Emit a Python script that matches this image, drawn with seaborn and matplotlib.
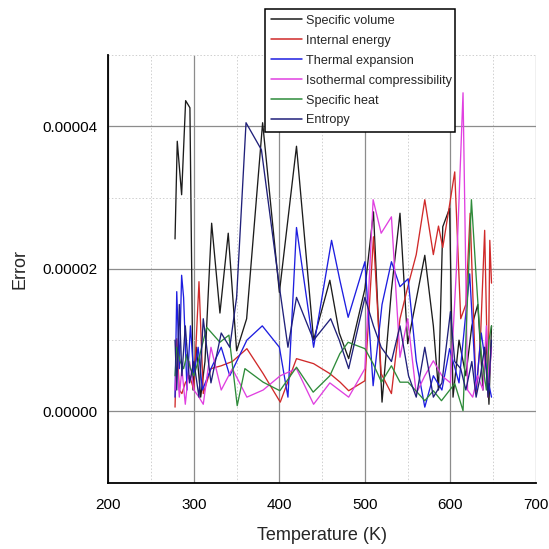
import matplotlib
matplotlib.use("Agg")
import matplotlib.pyplot as plt
import seaborn as sns
import pandas as pd
from matplotlib.ticker import MultipleLocator, FormatStrFormatter

SCALE = 1e-5  # errors below are given in units of 1e-5

series_names = ["Specific volume", "Internal energy", "Thermal expansion",
                "Isothermal compressibility", "Specific heat", "Entropy"]
series_colors = ["#1c1c1c", "#d02a2a", "#1e1ee0", "#e040e0", "#2e8b3a", "#20207a"]

t_volume = [278, 280.6, 285.7, 290.4, 295.4, 299, 303, 308, 313, 320.8, 330.5, 340.2, 350,
            361.7, 380.4, 400, 420, 440, 459, 470, 481, 500, 510, 520, 531, 541, 550, 570,
            580, 586, 591, 599, 603, 610, 618, 625, 632, 638, 642, 645, 648]
err_volume = [2.42, 3.79, 3.04, 4.36, 4.26, 0.3, 0.9, 0.2, 0.7, 2.64, 1.38, 2.50, 0.85,
              1.30, 4.05, 1.67, 3.72, 1.0, 1.84, 1.1, 0.74, 1.72, 2.8, 0.13, 1.7, 2.78, 0.95, 2.19,
              1.2, 0.3, 2.59, 2.85, 0.2, 1.0, 0.5, 1.2, 1.5, 0.3, 1.0, 0.1, 1.2]

t_energy = [278, 280, 283, 286, 290, 295, 300, 306, 311, 320, 332, 345, 362, 381, 401, 420,
            440, 459, 471, 481, 500, 510, 519, 531, 541, 551, 560, 570, 580, 586, 591, 599,
            605, 612, 618, 623, 630, 635, 640, 644, 646, 648]
err_energy = [0.06, 1.02, 0.3, 0.25, 0.4, 0.5, 0.3, 1.82, 0.25, 0.6, 0.64, 0.7, 0.88, 0.53,
              0.13, 0.74, 0.67, 0.53, 0.41, 0.29, 0.43, 2.45, 0.53, 0.25, 1.3, 1.79, 2.2, 2.97,
              2.2, 2.6, 2.3, 2.9, 3.36, 1.3, 1.5, 2.78, 0.25, 1.0, 2.54, 0.2, 2.4, 1.8]

t_expansion = [278, 280, 283, 285.7, 288, 292, 296, 300, 305, 310, 320, 332, 342, 350, 362,
               380, 400, 410, 420, 440, 461, 470.7, 480.4, 500, 509.6, 520, 531, 541, 550.5,
               560, 570, 580, 590, 599, 610, 622.5, 630, 636, 644, 648]
err_expansion = [0.2, 1.68, 0.6, 1.91, 1.6, 0.3, 1.2, 0.5, 0.9, 0.3, 0.6, 0.9, 0.5, 0.7,
                 1.0, 1.2, 0.9, 0.2, 2.58, 0.9, 2.4, 1.84, 1.32, 2.1, 0.36, 1.5, 2.1, 1.75, 1.86,
                 0.71, 0.06, 0.5, 0.3, 0.88, 0.4, 1.93, 0.3, 1.1, 0.43, 0.2]

t_compress = [278, 280, 283, 286, 290, 295, 300, 306, 311, 320, 332, 345, 362, 381, 401, 420,
              440, 459, 481, 500, 509.6, 519, 531, 541, 550, 560, 570, 580, 590, 600, 607,
              614.7, 620, 626, 632, 638, 642, 645, 648]
err_compress = [0.3, 0.8, 0.2, 0.6, 0.1, 0.7, 0.3, 0.2, 0.1, 0.9, 0.3, 0.6, 0.2, 0.3, 0.5, 0.6,
                0.1, 0.4, 0.2, 0.6, 2.97, 2.5, 2.73, 0.76, 1.3, 0.25, 0.5, 0.71, 0.5, 0.4, 2.0,
                4.47, 0.3, 0.2, 0.5, 0.3, 1.2, 0.4, 0.9]

t_heat = [278, 280, 284, 288, 292, 296, 300, 305, 315, 330.5, 341, 350.7, 359.7, 381, 400.6,
          420, 439.5, 459, 470.7, 480.4, 500, 509.6, 519.4, 531, 541, 550.5, 570, 580, 589.5,
          605, 614.7, 624.5, 630, 636, 642, 645, 648]
err_heat = [0.5, 0.9, 0.7, 0.6, 0.8, 0.6, 0.5, 0.7, 1.18, 0.97, 1.07, 0.08, 0.6, 0.41, 0.29,
            0.62, 0.27, 0.5, 0.81, 0.97, 0.88, 0.67, 0.41, 0.64, 0.41, 0.41, 0.15, 0.29, 0.15,
            0.39, 0.01, 2.97, 1.9, 0.8, 0.3, 1.0, 1.2]

t_entropy = [278, 280, 283, 286, 290, 295, 300, 306, 311, 320, 332, 342, 350, 361, 379, 400,
             410, 420, 440, 460, 470, 481, 500, 510, 519, 531, 541, 551, 560, 570, 580, 590,
             600, 605, 612, 618, 625, 630, 635, 640, 644, 648]
err_entropy = [1.0, 0.3, 1.5, 0.5, 1.2, 0.4, 0.7, 0.2, 1.3, 0.4, 1.1, 0.9, 1.6, 4.05, 3.67,
               1.75, 0.9, 1.6, 1.0, 1.3, 1.0, 0.6, 1.6, 1.2, 0.9, 0.7, 1.2, 0.5, 0.2, 0.9, 0.2,
               0.4, 1.4, 0.7, 0.6, 0.3, 0.7, 0.2, 0.5, 0.9, 0.2, 1.0]

x_ticks = [200, 300, 400, 500, 600, 700]
y_ticks = [0.0, 0.00002, 0.00004]

frames = []
for name, t, e in zip(series_names,
                      [t_volume, t_energy, t_expansion, t_compress, t_heat, t_entropy],
                      [err_volume, err_energy, err_expansion, err_compress, err_heat, err_entropy]):
    frames.append(pd.DataFrame({"Temperature": t, "Error": [v * SCALE for v in e], "Property": name}))
data = pd.concat(frames, ignore_index=True)

sns.set_style("white")
plt.rcParams["font.family"] = ["Liberation Sans", "DejaVu Sans"]

fig = plt.figure(figsize=(5.49, 5.49), dpi=100)
ax = fig.add_axes([0.1973, 0.1208, 0.779, 0.779])

sns.lineplot(data=data, x="Temperature", y="Error", hue="Property",
             hue_order=series_names, palette=dict(zip(series_names, series_colors)),
             estimator=None, sort=False, linewidth=0.95, ax=ax, legend=True)

ax.set_xlim(200, 700)
ax.set_ylim(-0.00001, 0.00005)
ax.xaxis.set_minor_locator(MultipleLocator(50))
ax.yaxis.set_minor_locator(MultipleLocator(0.00001))
ax.set_yticks(y_ticks)
ax.set_xticks(x_ticks)
ax.yaxis.set_major_formatter(FormatStrFormatter("%.5f"))

ax.grid(True, which="major", color="#8c8c8c", linewidth=0.9, linestyle="-")
ax.grid(True, which="minor", color="#cfcfcf", linewidth=0.7, linestyle=(0, (1.5, 2)))
ax.set_axisbelow(True)
for tick in ax.xaxis.get_major_ticks():
    if tick.get_loc() >= 700 or tick.get_loc() <= 200:
        tick.gridline.set_visible(False)

for side in ("top", "right"):
    ax.spines[side].set_visible(False)
for side in ("left", "bottom"):
    ax.spines[side].set_color("black")
    ax.spines[side].set_linewidth(1.3)

ax.tick_params(axis="x", which="major", direction="inout", length=8, width=1.1,
               labelsize=11, pad=7, colors="black")
ax.tick_params(axis="x", which="minor", direction="out", length=4, width=1.0, colors="black")
ax.tick_params(axis="y", which="major", direction="out", length=5, width=1.1,
               labelsize=11, pad=3, colors="black")
ax.tick_params(axis="y", which="minor", direction="out", length=3, width=1.0, colors="black")

ax.set_xlabel("Temperature (K)", fontsize=13, labelpad=11)
ax.set_ylabel("Error", fontsize=13, labelpad=10)

handles, labels = ax.get_legend_handles_labels()
leg = ax.legend(handles, labels, loc="upper left",
                bbox_to_anchor=(265 / 549, 1 - 130 / 549, 190 / 549, 121 / 549),
                bbox_transform=fig.transFigure, mode="expand", borderaxespad=0,
                frameon=True, fancybox=False, framealpha=1, edgecolor="black",
                fontsize=9.1, handlelength=2.5, handletextpad=0.3, labelspacing=0.63,
                borderpad=0.45)
leg.get_frame().set_linewidth(1.1)
for line in leg.get_lines():
    line.set_linewidth(1.1)

fig.savefig("out.png", dpi=100)
